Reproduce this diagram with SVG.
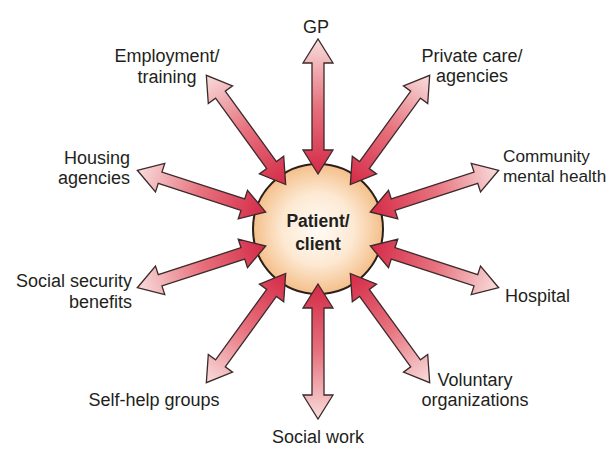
<svg xmlns="http://www.w3.org/2000/svg" xmlns:xlink="http://www.w3.org/1999/xlink" width="608" height="454" viewBox="0 0 608 454">
  <style>
    .lbl { font-family: "Liberation Sans", Arial, sans-serif; font-size: 18px; fill: #231f20; }
    .ctr { font-family: "Liberation Sans", Arial, sans-serif; font-size: 17.5px; font-weight: bold; fill: #231f20; text-anchor: middle; }
    .mid { text-anchor: middle; }
    .end { text-anchor: end; }
    .arrow { fill: url(#arrowGrad); stroke: #3b2a2a; stroke-width: 1.3; stroke-linejoin: miter; }
  </style>
  <defs>
    <radialGradient id="hubGrad" cx="0.5" cy="0.5" r="0.5">
      <stop offset="0" stop-color="#fffbf6"/>
      <stop offset="0.55" stop-color="#fde9d3"/>
      <stop offset="1" stop-color="#f4bf8a"/>
    </radialGradient>
    <linearGradient id="arrowGrad" x1="0" y1="0" x2="1" y2="0">
      <stop offset="0" stop-color="#d42a47"/>
      <stop offset="0.5" stop-color="#e7717d"/>
      <stop offset="1" stop-color="#f8dddc"/>
    </linearGradient>
    <path id="dbl" class="arrow" d="M55,0 L79,-15 L79,-6 L166,-6 L166,-15 L190,0 L166,15 L166,6 L79,6 L79,15 Z"/>
  </defs>
  <rect width="608" height="454" fill="#ffffff"/>

  <g id="hub">
    <circle cx="318" cy="229" r="65" fill="url(#hubGrad)" stroke="#2a1f1a" stroke-width="2"/>
    <text class="ctr" x="318" y="227">Patient/</text>
    <text class="ctr" x="318" y="250">client</text>
  </g>

  <g id="connectors">
    <use xlink:href="#dbl" transform="translate(318,229) rotate(-90)"/>
    <use xlink:href="#dbl" transform="translate(318,229) rotate(-54)"/>
    <use xlink:href="#dbl" transform="translate(318,229) rotate(-18)"/>
    <use xlink:href="#dbl" transform="translate(318,229) rotate(18)"/>
    <use xlink:href="#dbl" transform="translate(318,229) rotate(54)"/>
    <use xlink:href="#dbl" transform="translate(318,229) rotate(90)"/>
    <use xlink:href="#dbl" transform="translate(318,229) rotate(126)"/>
    <use xlink:href="#dbl" transform="translate(318,229) rotate(162)"/>
    <use xlink:href="#dbl" transform="translate(318,229) rotate(198)"/>
    <use xlink:href="#dbl" transform="translate(318,229) rotate(234)"/>
  </g>

  <g id="gp"><text class="lbl mid" x="316" y="33">GP</text></g>
  <g id="private-care">
    <text class="lbl mid" x="472" y="62">Private care/</text>
    <text class="lbl mid" x="472" y="82">agencies</text>
  </g>
  <g id="community-mental-health">
    <text class="lbl" x="503" y="162" style="font-size:17.2px">Community</text>
    <text class="lbl" x="503" y="182" style="font-size:17.2px">mental health</text>
  </g>
  <g id="hospital"><text class="lbl" x="505" y="302">Hospital</text></g>
  <g id="voluntary">
    <text class="lbl mid" x="475" y="386">Voluntary</text>
    <text class="lbl mid" x="475" y="406">organizations</text>
  </g>
  <g id="social-work"><text class="lbl mid" x="318" y="443">Social work</text></g>
  <g id="self-help"><text class="lbl mid" x="154" y="406">Self-help groups</text></g>
  <g id="social-security">
    <text class="lbl end" x="132" y="287">Social security</text>
    <text class="lbl end" x="132" y="308">benefits</text>
  </g>
  <g id="housing">
    <text class="lbl end" x="130" y="164">Housing</text>
    <text class="lbl end" x="130" y="184">agencies</text>
  </g>
  <g id="employment">
    <text class="lbl mid" x="167" y="62">Employment/</text>
    <text class="lbl mid" x="167" y="83">training</text>
  </g>
</svg>
